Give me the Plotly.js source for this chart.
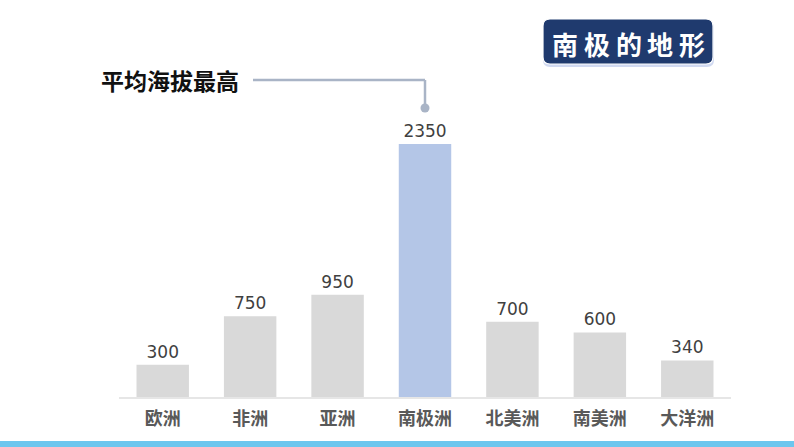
<!DOCTYPE html>
<html>
<head>
<meta charset="utf-8">
<script src="https://cdn.plot.ly/plotly-3.0.1.min.js"></script>
<style>html,body{margin:0;padding:0;background:#fff;}#chart{width:794px;height:447px;}</style>
</head>
<body>
<div id="chart"></div>
<script>
const categories = ['欧洲', '非洲', '亚洲', '南极洲', '北美洲', '南美洲', '大洋洲'];
const elevations = [300, 750, 950, 2350, 700, 600, 340];
const highlight = '南极洲';
const titleChars = ['南', '极', '的', '地', '形'];
const calloutText = '平均海拔最高';

const colors = categories.map(c => c === highlight ? '#b4c6e7' : '#d9d9d9');
const hi = categories.indexOf(highlight);
const hx = (hi + 0.5) / categories.length;

const W = 794, H = 447, L = 119, R = 63, T = 97, B = 50;
const pw = W - L - R, ph = H - T - B;
const px = p => (p - L) / pw;
const py = p => (H - B - p) / ph;

function roundRect(x0, y0, x1, y1, r) {
  const rx = r / pw, ry = r / ph;
  const X0 = px(x0), X1 = px(x1), Y0 = py(y1), Y1 = py(y0);
  return `M${X0+rx},${Y0} L${X1-rx},${Y0} Q${X1},${Y0} ${X1},${Y0+ry} L${X1},${Y1-ry} Q${X1},${Y1} ${X1-rx},${Y1} L${X0+rx},${Y1} Q${X0},${Y1} ${X0},${Y1-ry} L${X0},${Y0+ry} Q${X0},${Y0} ${X0+rx},${Y0} Z`;
}

const trace = {
  type: 'bar',
  x: categories,
  y: elevations,
  marker: { color: colors },
  text: elevations.map(String),
  textposition: 'outside',
  textfont: { family: 'DejaVu Sans', size: 17, color: '#404040' },
  cliponaxis: false,
  hoverinfo: 'none'
};

const titleAnns = titleChars.map((ch, i) => ({
  xref: 'paper', yref: 'paper', x: px(565 + i * 31.8), y: py(43),
  xanchor: 'center', yanchor: 'middle', text: ch, showarrow: false,
  font: { family: 'Noto Sans CJK SC', size: 26, color: '#ffffff', weight: 'bold' }
}));

const layout = {
  width: W, height: H,
  margin: { l: L, r: R, t: T, b: B },
  paper_bgcolor: '#ffffff',
  plot_bgcolor: '#ffffff',
  showlegend: false,
  bargap: 0.4,
  xaxis: {
    type: 'category',
    showline: true, linecolor: '#e6e6e6', linewidth: 1.5,
    showgrid: false, zeroline: false, ticks: '',
    ticklabelstandoff: 5,
    tickfont: { family: 'Noto Sans CJK SC', size: 18, color: '#595959', weight: 'bold' },
    fixedrange: true
  },
  yaxis: {
    range: [0, 2787],
    visible: false,
    showgrid: false, zeroline: false,
    fixedrange: true
  },
  shapes: [
    { type: 'path', xref: 'paper', yref: 'paper', path: roundRect(543, 21, 714, 67, 7),
      fillcolor: 'rgba(150,170,225,0.45)', line: { width: 0 }, layer: 'above' },
    { type: 'path', xref: 'paper', yref: 'paper', path: roundRect(543, 19, 713, 64, 7),
      fillcolor: '#1f3a6e', line: { color: '#ffffff', width: 1.2 }, layer: 'above' },
    { type: 'line', xref: 'paper', yref: 'paper', x0: px(253), x1: hx, y0: py(80), y1: py(80),
      line: { color: '#a9b4c6', width: 2.5 } },
    { type: 'line', xref: 'paper', yref: 'paper', x0: hx, x1: hx, y0: py(80), y1: py(108),
      line: { color: '#a9b4c6', width: 2.5 } },
    { type: 'circle', xref: 'paper', yref: 'paper',
      x0: hx - 4.5 / pw, x1: hx + 4.5 / pw, y0: py(108) - 4.5 / ph, y1: py(108) + 4.5 / ph,
      fillcolor: '#a9b4c6', line: { width: 0 } },
    { type: 'rect', xref: 'paper', yref: 'paper', x0: px(0), x1: px(W), y0: py(441), y1: py(H + 2),
      fillcolor: '#6cc6ee', line: { width: 0 } }
  ],
  annotations: titleAnns.concat([
    { xref: 'paper', yref: 'paper', x: px(99), y: py(80), xanchor: 'left', yanchor: 'middle',
      text: calloutText, showarrow: false,
      font: { family: 'Noto Sans CJK SC', size: 23, color: '#111111', weight: 'bold' } }
  ])
};

Plotly.newPlot('chart', [trace], layout, { displayModeBar: false, staticPlot: true });
</script>
</body>
</html>
